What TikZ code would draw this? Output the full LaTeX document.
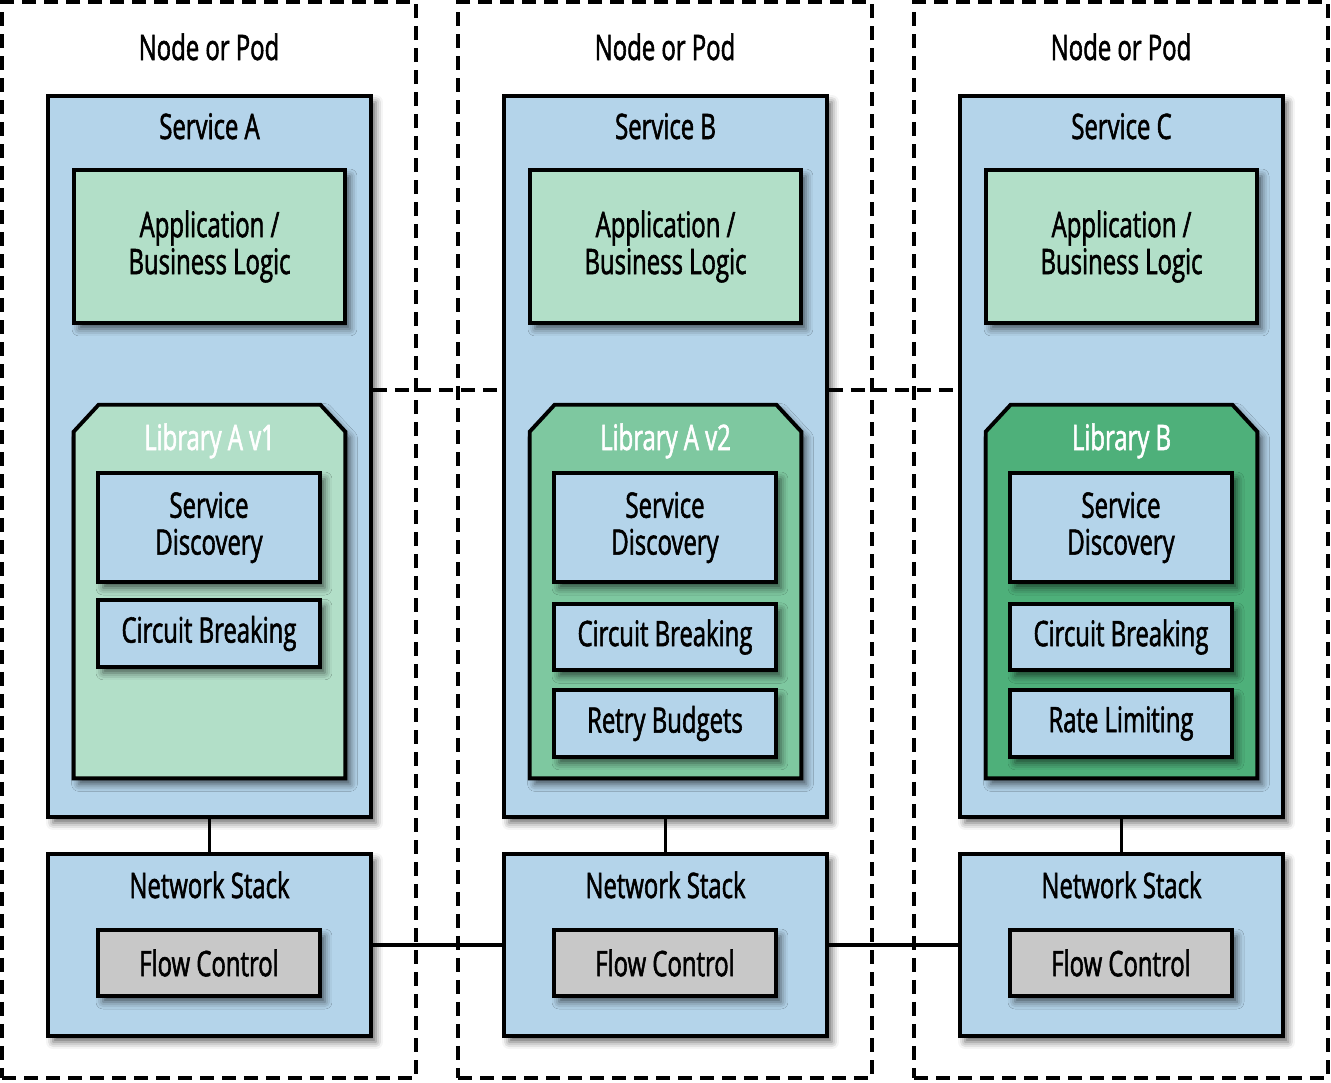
\documentclass[tikz,border=0pt]{standalone}
\usepackage{fontspec}
\setmainfont[FakeStretch=0.68,FakeBold=1.6]{Open Sans}
\usetikzlibrary{shadows.blur}

\definecolor{svcblue}{RGB}{180,212,234}
\definecolor{appgreen}{RGB}{178,223,200}
\definecolor{libone}{RGB}{178,223,200}
\definecolor{libtwo}{RGB}{126,200,160}
\definecolor{libthree}{RGB}{78,176,122}
\definecolor{flowgray}{RGB}{200,200,200}

\begin{document}
\begin{tikzpicture}
	[x=0.02cm,y=-0.02cm,
	every node/.style={font=\fontsize{20}{21}\selectfont,align=center,inner sep=0pt},
	pod/.style={draw,line width=2.2pt,dash pattern=on 0.28cm off 0.16cm,minimum width=8.28cm,minimum height=21.52cm},
	podline/.style={line width=2.2pt,dash pattern=on 0.28cm off 0.16cm},
	box/.style={draw,line width=2.2pt,blur shadow={shadow xshift=0.1cm,shadow yshift=-0.12cm,shadow blur radius=0.14cm,shadow opacity=60}},
	svc/.style={box,fill=svcblue,minimum width=6.46cm,minimum height=14.42cm},
	net/.style={box,fill=svcblue,minimum width=6.46cm,minimum height=3.64cm},
	app/.style={box,fill=appgreen,minimum width=5.42cm,minimum height=3.06cm},
	lib/.style={minimum width=5.42cm,minimum height=7.46cm},
	feat/.style={box,fill=svcblue,minimum width=4.44cm,minimum height=2.18cm},
	small/.style={box,fill=svcblue,minimum width=4.44cm,minimum height=1.33cm},
	flow/.style={box,fill=flowgray,minimum width=4.44cm,minimum height=1.32cm},
	heading/.style={anchor=base},
	link/.style={line width=2.2pt}]
	\useasboundingbox (0,0) rectangle (1331,1082);
	% pods
	\node[pod] (podA) at (209,540) {};
	\node[pod] (podB) at (665,540) {};
	\node[pod] (podC) at (1121,540) {};
	\node[heading] (hostA) at (209,60) {Node or Pod};
	\node[heading] (hostB) at (665,60) {Node or Pod};
	\node[heading] (hostC) at (1121,60) {Node or Pod};
	\coordinate (split) at (0,390);
	% service A
	\node[svc] (svcA) at (209.5,456.5) {};
	\node[heading] (nameA) at (209.5,139) {Service A};
	\node[app] (appA) at (209.5,246.5) {Application /\\Business Logic};
	\node[lib] (libA) at (209.5,591.5) {};
	\draw[box,fill=libone] (libA.south west) -- ([shift={(0,27)}]libA.north west) -- ([shift={(25,0)}]libA.north west)
		-- ([shift={(-25,0)}]libA.north east) -- ([shift={(0,27)}]libA.north east) -- (libA.south east) -- cycle;
	\node[heading,text=white] (libnameA) at (209.5,450) {Library A v1};
	\node[feat] (sdA) at (209,527.5) {Service\\Discovery};
	\node[small] (cbA) at (209,633.5) {Circuit Breaking};
	\node[net] (netA) at (209.5,945) {};
	\node[heading] (stackA) at (209.5,898) {Network Stack};
	\node[flow] (fcA) at (209,963) {Flow Control};
	% service B
	\node[svc] (svcB) at (665.5,456.5) {};
	\node[heading] (nameB) at (665.5,139) {Service B};
	\node[app] (appB) at (665.5,246.5) {Application /\\Business Logic};
	\node[lib] (libB) at (665.5,591.5) {};
	\draw[box,fill=libtwo] (libB.south west) -- ([shift={(0,27)}]libB.north west) -- ([shift={(25,0)}]libB.north west)
		-- ([shift={(-25,0)}]libB.north east) -- ([shift={(0,27)}]libB.north east) -- (libB.south east) -- cycle;
	\node[heading,text=white] (libnameB) at (665.5,450) {Library A v2};
	\node[feat] (sdB) at (665,527.5) {Service\\Discovery};
	\node[small] (cbB) at (665,637) {Circuit Breaking};
	\node[small] (rbB) at (665,723.5) {Retry Budgets};
	\node[net] (netB) at (665.5,945) {};
	\node[heading] (stackB) at (665.5,898) {Network Stack};
	\node[flow] (fcB) at (665,963) {Flow Control};
	% service C
	\node[svc] (svcC) at (1121.5,456.5) {};
	\node[heading] (nameC) at (1121.5,139) {Service C};
	\node[app] (appC) at (1121.5,246.5) {Application /\\Business Logic};
	\node[lib] (libC) at (1121.5,591.5) {};
	\draw[box,fill=libthree] (libC.south west) -- ([shift={(0,27)}]libC.north west) -- ([shift={(25,0)}]libC.north west)
		-- ([shift={(-25,0)}]libC.north east) -- ([shift={(0,27)}]libC.north east) -- (libC.south east) -- cycle;
	\node[heading,text=white] (libnameC) at (1121.5,450) {Library B};
	\node[feat] (sdC) at (1121,527.5) {Service\\Discovery};
	\node[small] (cbC) at (1121,637) {Circuit Breaking};
	\node[small] (rlC) at (1121,723.5) {Rate Limiting};
	\node[net] (netC) at (1121.5,945) {};
	\node[heading] (stackC) at (1121.5,898) {Network Stack};
	\node[flow] (fcC) at (1121,963) {Flow Control};
	% connectors
	\draw[podline] (svcA.east |- split) -- (svcB.west |- split);
	\draw[podline] (svcB.east |- split) -- (svcC.west |- split);
	\draw[link] (svcA) -- (netA);
	\draw[link] (svcB) -- (netB);
	\draw[link] (svcC) -- (netC);
	\draw[link] (netA) -- (netB) -- (netC);
\end{tikzpicture}
\end{document}
